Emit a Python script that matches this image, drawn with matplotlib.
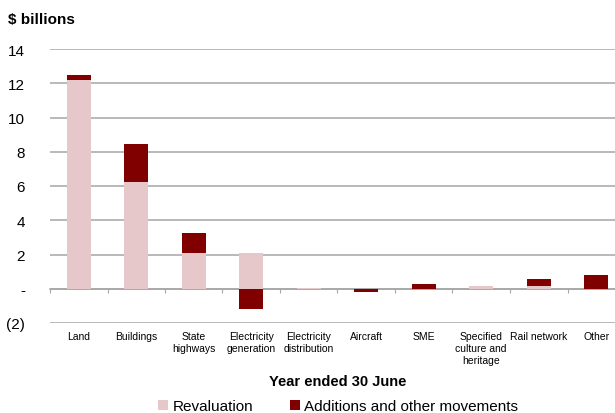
import numpy as np
import matplotlib.pyplot as plt

plt.rcParams['font.family'] = ['Liberation Sans', 'DejaVu Sans']

categories = ['Land', 'Buildings', 'State\nhighways', 'Electricity\ngeneration',
              'Electricity\ndistribution', 'Aircraft', 'SME',
              'Specified\nculture and\nheritage', 'Rail network', 'Other']
revaluation = [12.2, 6.22, 2.1, 2.1, 0.03, 0.0, 0.0, 0.15, 0.15, 0.0]
additions = [0.26, 2.22, 1.15, -1.2, 0.03, -0.2, 0.3, 0.02, 0.4, 0.83]
y_ticks = [-2, 0, 2, 4, 6, 8, 10, 12, 14]
y_labels = ['(2)', '-', '2', '4', '6', '8', '10', '12', '14']

pink = '#e6c8ca'
maroon = '#800000'
grid_col = '#a6a6a6'

x = np.arange(len(categories))
rev = np.array(revaluation)
add = np.array(additions)
# additions stack on the revaluation only when both have the same sign
add_bottom = np.where(np.sign(add) == np.sign(rev), rev, 0.0)

fig = plt.figure(figsize=(6.15, 4.14), dpi=100)
ax = fig.add_axes([50 / 615, 90 / 414, 575 / 615, 274 / 414])

ax.bar(x, rev, width=0.42, color=pink, label='Revaluation', zorder=3)
ax.bar(x, add, width=0.42, bottom=add_bottom, color=maroon,
       label='Additions and other movements', zorder=3)

ax.set_xlim(-0.5, len(categories) - 0.5)
ax.set_ylim(-2, 14)
ax.set_yticks(y_ticks)
ax.set_yticklabels(y_labels, fontsize=11)
ax.tick_params(axis='y', length=0, pad=18)
ax.yaxis.grid(True, color=grid_col, linewidth=1.1, zorder=0)
for s in ax.spines.values():
    s.set_visible(False)

ax.set_xticks(x)
ax.set_xticklabels(categories, fontsize=7.5, linespacing=1.25, va='top')
ax.tick_params(axis='x', length=0, pad=6)

# zero line with small category divider ticks
zero_ax = ax.secondary_xaxis(2 / 16)
zero_ax.set_xticks(np.arange(len(categories) + 1) - 0.5)
zero_ax.set_xticklabels([])
zero_ax.tick_params(length=3, color=grid_col, direction='out')
zero_ax.spines['bottom'].set_color(grid_col)
zero_ax.spines['bottom'].set_linewidth(1.1)
zero_ax.spines['bottom'].set_zorder(4)

ax.set_xlabel('Year ended 30 June', fontsize=10.5, fontweight='bold', labelpad=6)
fig.text(8 / 615, 1 - 20 / 414, '$ billions', fontsize=11, fontweight='bold',
         va='center', ha='left')

fig.legend(loc='center', bbox_to_anchor=(0.55, 7 / 414), ncol=2, frameon=False,
           fontsize=11, handlelength=0.65, handleheight=0.65,
           handletextpad=0.3, columnspacing=2.4)

fig.savefig('out.png', dpi=100)
